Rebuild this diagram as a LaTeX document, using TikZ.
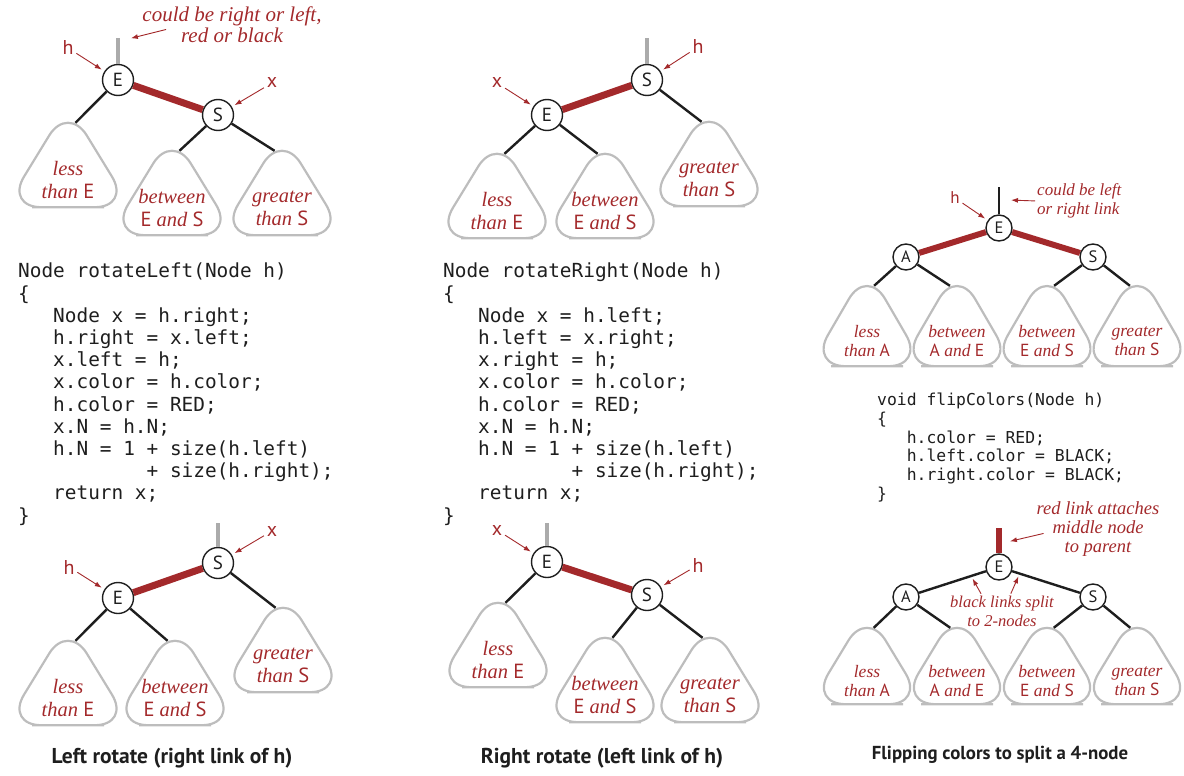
\documentclass[tikz,border=0pt]{standalone}
\usepackage{fontspec}
\setmainfont{Liberation Serif}
\setsansfont{PT Sans}
\setmonofont{DejaVu Sans Mono}
\usetikzlibrary{arrows.meta, calc}
\definecolor{Ink}{HTML}{1E1E1E}
\definecolor{Brick}{HTML}{A3292B}
\definecolor{Fog}{HTML}{BDBDBD}
\definecolor{Ash}{HTML}{ABABAB}
\newcommand{\ky}[1]{{\sffamily\upshape #1}}
\newcommand{\codeindent}[1]{\hspace*{#1\fontcharwd\font`x}}
\tikzset{
    keynode/.style={circle, draw=Ink, line width=1.4pt, fill=white, minimum size=31pt, inner sep=0pt, text=Ink, font=\sffamily\fontsize{19}{19}\selectfont},
    smallkey/.style={keynode, minimum size=26pt, font=\sffamily\fontsize{16.5}{16.5}\selectfont},
    treebox/.style={inner sep=0pt, append after command={\pgfextra{\draw[Fog, line width=2.2pt, rounded corners=36pt]
        (\tikzlastnode.south) -- ([xshift=13.5pt]\tikzlastnode.south east) -- ([yshift=18pt]\tikzlastnode.north)
        -- ([xshift=-13.5pt]\tikzlastnode.south west) -- cycle;}}},
    treetext/.style={text=Brick, align=center, font=\itshape\fontsize{20.5}{23}\selectfont, yshift=-15pt},
    smalltext/.style={text=Brick, align=center, font=\itshape\fontsize{17.5}{19.5}\selectfont, yshift=-15pt},
    subtree/.style={treebox, minimum width=98pt, minimum height=84pt, label={[treetext]center:#1}},
    smalltree/.style={treebox, minimum width=87pt, minimum height=80pt, label={[smalltext]center:#1}},
    redlink/.style={Brick, line width=7pt},
    blacklink/.style={Ink, line width=2.4pt},
    stublink/.style={Ash, line width=4.5pt},
    pointer/.style={-{Latex[length=7pt, width=5pt]}, Brick, line width=0.9pt, shorten >=3pt, shorten <=2pt},
    tag/.style={text=Brick, font=\sffamily\fontsize{20}{20}\selectfont, inner sep=1pt},
    note/.style={text=Brick, align=center, font=\itshape\fontsize{21}{21}\selectfont, inner sep=0pt},
    smallnote/.style={note, font=\itshape\fontsize{17}{18.5}\selectfont},
    code/.style={align=left, anchor=north west, inner sep=0pt, text=Ink, font=\ttfamily\fontsize{19.4}{22.2}\selectfont},
    smallcode/.style={code, font=\ttfamily\fontsize{16.4}{18.7}\selectfont},
    caption/.style={text=Ink, font=\sffamily\bfseries\fontsize{21.5}{21.5}\selectfont},
}
\begin{document}
\begin{tikzpicture}[x=1pt, y=-1pt]
    \useasboundingbox (0,0) rectangle (1184,776);

    % left rotate, before
    \node[keynode] (lE1) at (118,80) {E};
    \node[keynode] (lS1) at (218,115) {S};
    \coordinate (lTop1) at (118,38);
    \node[subtree={less\\than \ky{E}}] (lLt1) at (68,165) {};
    \node[subtree={between\\\ky{E} and \ky{S}}] (lMid1) at (172,193) {};
    \node[subtree={greater\\than \ky{S}}] (lGt1) at (282,193) {};
    \node[tag] (lh1) at (68,48) {h};
    \node[tag] (lx1) at (272,83) {x};
    \node[note] (lNote1) at (232,25) {could be right or left,\\red or black};
    \draw[stublink] (lE1) -- (lTop1);
    \draw[redlink] (lE1) -- (lS1);
    \draw[blacklink] (lE1) -- (lLt1.80);
    \draw[blacklink] (lS1) -- (lMid1.80);
    \draw[blacklink] (lS1) -- (lGt1.100);
    \draw[pointer] (lh1) -- (lE1);
    \draw[pointer] (lx1) -- (lS1);
    \draw[pointer] ([shift={(-64,4)}]lNote1.center) -- ($(lTop1)+(10,1)$);

    \node[code] (lCode) at (18,263) {Node rotateLeft(Node h)\\
        \{\\
        \codeindent{3}Node x = h.right;\\
        \codeindent{3}h.right = x.left;\\
        \codeindent{3}x.left = h;\\
        \codeindent{3}x.color = h.color;\\
        \codeindent{3}h.color = RED;\\
        \codeindent{3}x.N = h.N;\\
        \codeindent{3}h.N = 1 + size(h.left)\\
        \codeindent{11}+ size(h.right);\\
        \codeindent{3}return x;\\
        \}};

    % left rotate, after
    \node[keynode] (lS2) at (218,563) {S};
    \node[keynode] (lE2) at (118,598) {E};
    \coordinate (lTop2) at (218,523);
    \node[subtree={less\\than \ky{E}}] (lLt2) at (68,683) {};
    \node[subtree={between\\\ky{E} and \ky{S}}] (lMid2) at (175,683) {};
    \node[subtree={greater\\than \ky{S}}] (lGt2) at (283,650) {};
    \node[tag] (lh2) at (69,567) {h};
    \node[tag] (lx2) at (272,531) {x};
    \draw[stublink] (lS2) -- (lTop2);
    \draw[redlink] (lE2) -- (lS2);
    \draw[blacklink] (lE2) -- (lLt2.80);
    \draw[blacklink] (lE2) -- (lMid2.100);
    \draw[blacklink] (lS2) -- (lGt2.100);
    \draw[pointer] (lh2) -- (lE2);
    \draw[pointer] (lx2) -- (lS2);
    \node[caption] (lCap) at (172,758) {Left rotate (right link of h)};

    % right rotate, before
    \node[keynode] (mS1) at (647,80) {S};
    \node[keynode] (mE1) at (547,115) {E};
    \coordinate (mTop1) at (647,38);
    \node[subtree={less\\than \ky{E}}] (mLt1) at (497,196) {};
    \node[subtree={between\\\ky{E} and \ky{S}}] (mMid1) at (605,196) {};
    \node[subtree={greater\\than \ky{S}}] (mGt1) at (709,164) {};
    \node[tag] (mh1) at (698,47) {h};
    \node[tag] (mx1) at (497,83) {x};
    \draw[stublink] (mS1) -- (mTop1);
    \draw[redlink] (mE1) -- (mS1);
    \draw[blacklink] (mE1) -- (mLt1.80);
    \draw[blacklink] (mE1) -- (mMid1.100);
    \draw[blacklink] (mS1) -- (mGt1.100);
    \draw[pointer] (mh1) -- (mS1);
    \draw[pointer] (mx1) -- (mE1);

    \node[code] (mCode) at (443,263) {Node rotateRight(Node h)\\
        \{\\
        \codeindent{3}Node x = h.left;\\
        \codeindent{3}h.left = x.right;\\
        \codeindent{3}x.right = h;\\
        \codeindent{3}x.color = h.color;\\
        \codeindent{3}h.color = RED;\\
        \codeindent{3}x.N = h.N;\\
        \codeindent{3}h.N = 1 + size(h.left)\\
        \codeindent{11}+ size(h.right);\\
        \codeindent{3}return x;\\
        \}};

    % right rotate, after
    \node[keynode] (mE2) at (547,562) {E};
    \node[keynode] (mS2) at (647,595) {S};
    \coordinate (mTop2) at (547,523);
    \node[subtree={less\\than \ky{E}}] (mLt2) at (498,645) {};
    \node[subtree={between\\\ky{E} and \ky{S}}] (mMid2) at (605,680) {};
    \node[subtree={greater\\than \ky{S}}] (mGt2) at (710,680) {};
    \node[tag] (mx2) at (497,530) {x};
    \node[tag] (mh2) at (698,565) {h};
    \draw[stublink] (mE2) -- (mTop2);
    \draw[redlink] (mE2) -- (mS2);
    \draw[blacklink] (mE2) -- (mLt2.80);
    \draw[blacklink] (mS2) -- (mMid2.80);
    \draw[blacklink] (mS2) -- (mGt2.100);
    \draw[pointer] (mx2) -- (mE2);
    \draw[pointer] (mh2) -- (mS2);
    \node[caption] (mCap) at (602,758) {Right rotate (left link of h)};

    % flip colors, before
    \node[smallkey] (rE1) at (999,228) {E};
    \node[smallkey] (rA1) at (906,257) {A};
    \node[smallkey] (rS1) at (1093,257) {S};
    \coordinate (rTop1) at (999,187);
    \coordinate (rTip1) at (1008,200);
    \node[smalltree={less\\than \ky{A}}] (rLt1) at (867,326) {};
    \node[smalltree={between\\\ky{A} and \ky{E}}] (rAE1) at (957,326) {};
    \node[smalltree={between\\\ky{E} and \ky{S}}] (rES1) at (1047,326) {};
    \node[smalltree={greater\\than \ky{S}}] (rGt1) at (1137,326) {};
    \node[tag, font=\sffamily\fontsize{17}{17}\selectfont] (rh1) at (955,198) {h};
    \node[smallnote, align=left, anchor=west] (rNote1) at (1037,201) {could be left\\or right link};
    \draw[blacklink] (rE1) -- (rTop1);
    \draw[redlink, line width=6pt] (rE1) -- (rA1);
    \draw[redlink, line width=6pt] (rE1) -- (rS1);
    \draw[blacklink] (rA1) -- (rLt1.80);
    \draw[blacklink] (rA1) -- (rAE1.100);
    \draw[blacklink] (rS1) -- (rES1.80);
    \draw[blacklink] (rS1) -- (rGt1.100);
    \draw[pointer] (rh1) -- (rE1);
    \draw[pointer] (rNote1.west) -- (rTip1);

    \node[smallcode] (rCode) at (877,393) {void flipColors(Node h)\\
        \{\\
        \codeindent{3}h.color = RED;\\
        \codeindent{3}h.left.color = BLACK;\\
        \codeindent{3}h.right.color = BLACK;\\
        \}};

    % flip colors, after
    \node[smallkey] (rE2) at (999,567) {E};
    \node[smallkey] (rA2) at (906,597) {A};
    \node[smallkey] (rS2) at (1093,597) {S};
    \coordinate (rTop2) at (999,528);
    \coordinate (rTip2) at (1007,542);
    \node[smalltree={less\\than \ky{A}}, minimum height=76pt] (rLt2) at (867,666) {};
    \node[smalltree={between\\\ky{A} and \ky{E}}, minimum height=76pt] (rAE2) at (957,666) {};
    \node[smalltree={between\\\ky{E} and \ky{S}}, minimum height=76pt] (rES2) at (1047,666) {};
    \node[smalltree={greater\\than \ky{S}}, minimum height=76pt] (rGt2) at (1137,666) {};
    \node[smallnote, font=\itshape\fontsize{18.5}{19}\selectfont] (rNote2) at (1098,529) {red link attaches\\middle node\\to parent};
    \node[smallnote, font=\itshape\fontsize{16.5}{19}\selectfont] (rSplit) at (1002,611) {black links split\\to 2-nodes};
    \draw[redlink, line width=6pt] (rE2) -- (rTop2);
    \draw[blacklink] (rE2) -- (rA2);
    \draw[blacklink] (rE2) -- (rS2);
    \draw[blacklink] (rA2) -- (rLt2.80);
    \draw[blacklink] (rA2) -- (rAE2.100);
    \draw[blacklink] (rS2) -- (rES2.80);
    \draw[blacklink] (rS2) -- (rGt2.100);
    \draw[pointer] ([shift={(9,4)}]rNote2.west) -- (rTip2);
    \draw[pointer] ([xshift=-20pt]rSplit.north) -- ($(rE2)!0.3!(rA2)$);
    \draw[pointer] ([xshift=8pt]rSplit.north) -- ($(rE2)!0.22!(rS2)$);
    \node[caption, font=\sffamily\bfseries\fontsize{18.8}{18.8}\selectfont] (rCap) at (1000,755) {Flipping colors to split a 4-node};
\end{tikzpicture}
\end{document}
